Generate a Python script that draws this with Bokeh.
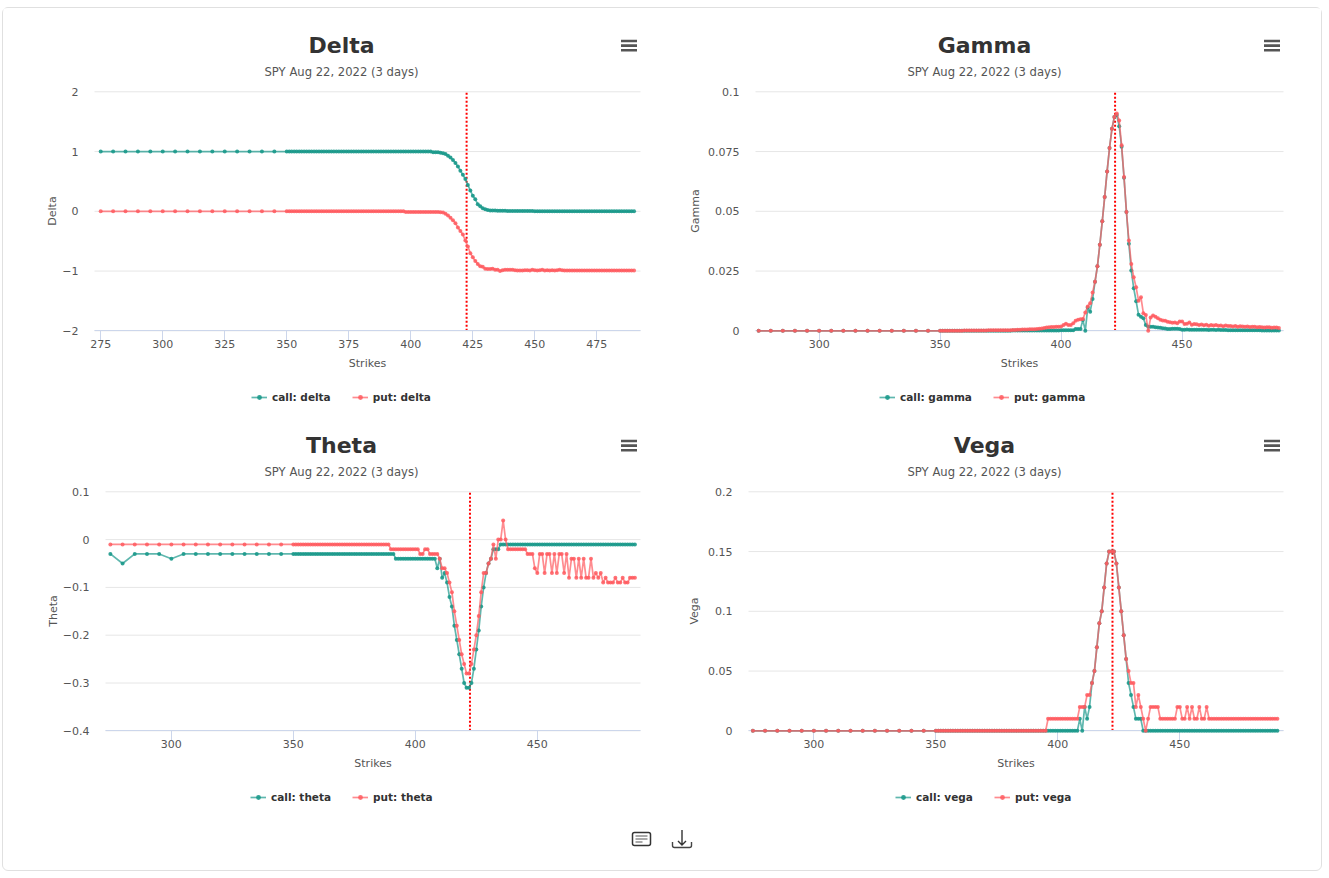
from bokeh.embed import file_html
from bokeh.layouts import column, row
from bokeh.models import (Div, FixedTicker, Label, Legend, LegendItem, Range1d)
from bokeh.plotting import figure
from bokeh.resources import INLINE

strikes = [275, 280, 285, 290, 295, 300, 305, 310, 315, 320, 325, 330, 335, 340, 345,
    350, 351, 352, 353, 354, 355, 356, 357, 358, 359,
    360, 361, 362, 363, 364, 365, 366, 367, 368, 369,
    370, 371, 372, 373, 374, 375, 376, 377, 378, 379,
    380, 381, 382, 383, 384, 385, 386, 387, 388, 389,
    390, 391, 392, 393, 394, 395, 396, 397, 398, 399,
    400, 401, 402, 403, 404, 405, 406, 407, 408, 409,
    410, 411, 412, 413, 414, 415, 416, 417, 418, 419,
    420, 421, 422, 423, 424, 425, 426, 427, 428, 429,
    430, 431, 432, 433, 434, 435, 436, 437, 438, 439,
    440, 441, 442, 443, 444, 445, 446, 447, 448, 449,
    450, 451, 452, 453, 454, 455, 456, 457, 458, 459,
    460, 461, 462, 463, 464, 465, 466, 467, 468, 469,
    470, 471, 472, 473, 474, 475, 476, 477, 478, 479,
    480, 481, 482, 483, 484, 485, 486, 487, 488, 489, 490]

delta_call = [1, 1, 1, 1, 1, 1, 1, 1, 1, 1, 1, 1, 1, 1, 1,
    1, 1, 1, 1, 1, 1, 1, 1, 1, 1,
    1, 1, 1, 1, 1, 1, 1, 1, 1, 1,
    1, 1, 1, 1, 1, 1, 1, 1, 1, 1,
    1, 1, 1, 1, 1, 1, 1, 1, 1, 1,
    1, 1, 1, 1, 1, 1, 1, 1, 1, 1,
    1, 1, 1, 1, 1, 1, 1, 1, 1, 0.99,
    0.99, 0.99, 0.98, 0.97, 0.96, 0.93, 0.90, 0.86, 0.81, 0.75,
    0.68, 0.61, 0.54, 0.44, 0.35, 0.26, 0.20, 0.12, 0.085, 0.05,
    0.035, 0.02, 0.015, 0.015, 0.015, 0.01, 0.01, 0.01, 0.01, 0.005,
    0.005, 0.005, 0.005, 0.005, 0.005, 0.005, 0.005, 0.005, 0.005, 0.005,
    0, 0, 0, 0, 0, 0, 0, 0, 0, 0,
    0, 0, 0, 0, 0, 0, 0, 0, 0, 0,
    0, 0, 0, 0, 0, 0, 0, 0, 0, 0,
    0, 0, 0, 0, 0, 0, 0, 0, 0, 0, 0]

delta_put = [0, 0, 0, 0, 0, 0, 0, 0, 0, 0, 0, 0, 0, 0, 0,
    0, 0, 0, 0, 0, 0, 0, 0, 0, 0,
    0, 0, 0, 0, 0, 0, 0, 0, 0, 0,
    0, 0, 0, 0, 0, 0, 0, 0, 0, 0,
    0, 0, 0, 0, 0, 0, 0, 0, 0, 0,
    0, 0, 0, 0, 0, 0, 0, 0, -0.01, -0.01,
    -0.01, -0.01, -0.01, -0.01, -0.01, -0.01, -0.01, -0.01, -0.01, -0.01,
    -0.01, -0.01, -0.015, -0.02, -0.04, -0.07, -0.11, -0.15, -0.20, -0.27,
    -0.33, -0.39, -0.49, -0.59, -0.70, -0.77, -0.83, -0.88, -0.92, -0.93,
    -0.96, -0.965, -0.965, -0.96, -0.98, -0.98, -1.0, -0.985, -0.98, -0.98,
    -0.98, -0.98, -0.985, -0.99, -0.99, -0.99, -0.985, -0.985, -0.99, -0.98,
    -0.985, -0.99, -0.985, -0.98, -0.99, -0.985, -0.99, -0.985, -0.99, -0.985,
    -0.98, -0.985, -0.99, -0.99, -0.99, -0.99, -0.99, -0.99, -0.99, -0.99,
    -0.99, -0.99, -0.99, -0.99, -0.99, -0.99, -0.99, -0.99, -0.99, -0.99,
    -0.99, -0.99, -0.99, -0.99, -0.99, -0.99, -0.99, -0.99, -0.99, -0.99, -0.99]

gamma_call = [0, 0, 0, 0, 0, 0, 0, 0, 0, 0, 0, 0, 0, 0, 0,
    0, 0, 0, 0, 0, 0, 0, 0, 0, 0,
    0, 0, 0, 0, 0, 0, 0, 0, 0, 0,
    0, 0, 0, 0, 0, 0, 0, 0, 0, 0,
    0.0001, 0.0001, 0.0001, 0.0001, 0.0001, 0.0001, 0.0001, 0.0001, 0.0001, 0.0001,
    0.0001, 0.0001, 0.0001, 0.0001, 0.0001, 0.0001, 0.0001, 0.0001, 0.0001, 0.0001,
    0.0002, 0.0002, 0.0002, 0.0002, 0.0002, 0.0002, 0.0008, 0.0008, 0.0008, 0.0045,
    0, 0.0098, 0.008, 0.0133, 0.0205, 0.027, 0.036, 0.0458, 0.056, 0.0667,
    0.0765, 0.0845, 0.0895, 0.0903, 0.0856, 0.077, 0.064, 0.0497, 0.0364, 0.0252,
    0.0178, 0.0124, 0.0067, 0.0059, 0.0052, 0.0024, 0.0017, 0.0017, 0.0017, 0.0015,
    0.0014, 0.0013, 0.0011, 0.001, 0.0008, 0.0008, 0.0009, 0.0009, 0.0009, 0.0008,
    0.0004, 0.0004, 0.0005, 0.0004, 0.0004, 0.0004, 0.0004, 0.0004, 0.0004, 0.0004,
    0.0004, 0.0003, 0.0004, 0.0004, 0.0003, 0.0004, 0.0003, 0.0003, 0.0003, 0.0002,
    0.0002, 0.0002, 0.0002, 0.0002, 0.0002, 0.0002, 0.0002, 0.0002, 0.0002, 0.0002,
    0.0002, 0.0002, 0.0002, 0.0001, 0.0001, 0.0001, 0.0001, 0.0001, 0.0001, 0.0001, 0.0001]

gamma_put = [0, 0, 0, 0, 0, 0, 0, 0, 0, 0, 0, 0, 0, 0, 0,
    0, 0, 0, 0, 0, 0, 0, 0, 0, 0,
    0.0001, 0.0001, 0.0001, 0.0001, 0.0001, 0.0001, 0.0001, 0.0001, 0.0001, 0.0001,
    0.0002, 0.0002, 0.0002, 0.0002, 0.0002, 0.0002, 0.0002, 0.0002, 0.0002, 0.0002,
    0.0003, 0.0003, 0.0004, 0.0004, 0.0005, 0.0005, 0.0005, 0.0006, 0.0006, 0.0007,
    0.0008, 0.0009, 0.001, 0.0012, 0.0014, 0.0015, 0.0016, 0.0016, 0.0017, 0.0017,
    0.0018, 0.0024, 0.0029, 0.0024, 0.0024, 0.0032, 0.0042, 0.0046, 0.0048, 0.0049,
    0.0077, 0.0102, 0.0115, 0.016, 0.0205, 0.027, 0.036, 0.0458, 0.056, 0.0667,
    0.0765, 0.0845, 0.0895, 0.0909, 0.088, 0.0776, 0.0643, 0.0497, 0.0378, 0.028,
    0.0224, 0.0182, 0.0126, 0.014, 0.0073, 0.0066, 0, 0.0056, 0.0064, 0.0059,
    0.0052, 0.0046, 0.0043, 0.0042, 0.0038, 0.0036, 0.0034, 0.0035, 0.0032, 0.0039,
    0.0039, 0.0028, 0.0029, 0.0035, 0.0025, 0.0028, 0.0027, 0.0024, 0.0026, 0.0023,
    0.0025, 0.0021, 0.0024, 0.0022, 0.0024, 0.0021, 0.0022, 0.0019, 0.0022, 0.002,
    0.002, 0.0018, 0.002, 0.0017, 0.0019, 0.0018, 0.0017, 0.0018, 0.0016, 0.0017,
    0.0017, 0.0015, 0.0016, 0.0015, 0.0014, 0.0015, 0.0015, 0.0013, 0.0014, 0.0014, 0.0012]

theta_call = [-0.03, -0.05, -0.03, -0.03, -0.03, -0.04, -0.03, -0.03, -0.03, -0.03, -0.03, -0.03, -0.03, -0.03, -0.03,
    -0.03, -0.03, -0.03, -0.03, -0.03, -0.03, -0.03, -0.03, -0.03, -0.03,
    -0.03, -0.03, -0.03, -0.03, -0.03, -0.03, -0.03, -0.03, -0.03, -0.03,
    -0.03, -0.03, -0.03, -0.03, -0.03, -0.03, -0.03, -0.03, -0.03, -0.03,
    -0.03, -0.03, -0.03, -0.03, -0.03, -0.03, -0.03, -0.03, -0.03, -0.03,
    -0.03, -0.03, -0.04, -0.04, -0.04, -0.04, -0.04, -0.04, -0.04, -0.04,
    -0.04, -0.04, -0.04, -0.04, -0.04, -0.04, -0.04, -0.04, -0.04, -0.06,
    -0.04, -0.08, -0.07, -0.09, -0.12, -0.14, -0.18, -0.21, -0.24, -0.27,
    -0.30, -0.31, -0.31, -0.30, -0.27, -0.23, -0.19, -0.14, -0.10, -0.07,
    -0.05, -0.04, -0.02, -0.02, -0.02, -0.01, -0.01, -0.01, -0.01, -0.01,
    -0.01, -0.01, -0.01, -0.01, -0.01, -0.01, -0.01, -0.01, -0.01, -0.01,
    -0.01, -0.01, -0.01, -0.01, -0.01, -0.01, -0.01, -0.01, -0.01, -0.01,
    -0.01, -0.01, -0.01, -0.01, -0.01, -0.01, -0.01, -0.01, -0.01, -0.01,
    -0.01, -0.01, -0.01, -0.01, -0.01, -0.01, -0.01, -0.01, -0.01, -0.01,
    -0.01, -0.01, -0.01, -0.01, -0.01, -0.01, -0.01, -0.01, -0.01, -0.01, -0.01]

theta_put = [-0.01, -0.01, -0.01, -0.01, -0.01, -0.01, -0.01, -0.01, -0.01, -0.01, -0.01, -0.01, -0.01, -0.01, -0.01,
    -0.01, -0.01, -0.01, -0.01, -0.01, -0.01, -0.01, -0.01, -0.01, -0.01,
    -0.01, -0.01, -0.01, -0.01, -0.01, -0.01, -0.01, -0.01, -0.01, -0.01,
    -0.01, -0.01, -0.01, -0.01, -0.01, -0.01, -0.01, -0.01, -0.01, -0.01,
    -0.01, -0.01, -0.01, -0.01, -0.01, -0.01, -0.01, -0.01, -0.01, -0.01,
    -0.02, -0.02, -0.02, -0.02, -0.02, -0.02, -0.02, -0.02, -0.02, -0.02,
    -0.02, -0.02, -0.03, -0.03, -0.02, -0.02, -0.03, -0.03, -0.03, -0.03,
    -0.04, -0.06, -0.06, -0.07, -0.09, -0.11, -0.15, -0.18, -0.21, -0.24,
    -0.26, -0.28, -0.28, -0.26, -0.23, -0.20, -0.16, -0.11, -0.07, -0.07,
    -0.05, -0.04, -0.01, -0.04, 0, 0, 0.04, 0, -0.02, -0.02,
    -0.02, -0.02, -0.02, -0.02, -0.02, -0.02, -0.03, -0.03, -0.03, -0.06,
    -0.07, -0.03, -0.03, -0.07, -0.03, -0.03, -0.07, -0.03, -0.07, -0.03,
    -0.03, -0.07, -0.03, -0.08, -0.04, -0.04, -0.08, -0.04, -0.08, -0.04,
    -0.08, -0.08, -0.04, -0.08, -0.07, -0.08, -0.07, -0.09, -0.08, -0.09,
    -0.09, -0.09, -0.08, -0.09, -0.09, -0.08, -0.09, -0.09, -0.08, -0.08, -0.08]

vega_call = [0, 0, 0, 0, 0, 0, 0, 0, 0, 0, 0, 0, 0, 0, 0,
    0, 0, 0, 0, 0, 0, 0, 0, 0, 0,
    0, 0, 0, 0, 0, 0, 0, 0, 0, 0,
    0, 0, 0, 0, 0, 0, 0, 0, 0, 0,
    0, 0, 0, 0, 0, 0, 0, 0, 0, 0,
    0, 0, 0, 0, 0, 0, 0, 0, 0, 0,
    0, 0, 0, 0, 0, 0, 0, 0, 0, 0.01,
    0, 0.02, 0.01, 0.02, 0.04, 0.05, 0.07, 0.09, 0.10, 0.12,
    0.14, 0.15, 0.15, 0.15, 0.14, 0.12, 0.10, 0.08, 0.06, 0.04,
    0.03, 0.02, 0.01, 0.01, 0.01, 0, 0, 0, 0, 0,
    0, 0, 0, 0, 0, 0, 0, 0, 0, 0,
    0, 0, 0, 0, 0, 0, 0, 0, 0, 0,
    0, 0, 0, 0, 0, 0, 0, 0, 0, 0,
    0, 0, 0, 0, 0, 0, 0, 0, 0, 0,
    0, 0, 0, 0, 0, 0, 0, 0, 0, 0, 0]

vega_put = [0, 0, 0, 0, 0, 0, 0, 0, 0, 0, 0, 0, 0, 0, 0,
    0, 0, 0, 0, 0, 0, 0, 0, 0, 0,
    0, 0, 0, 0, 0, 0, 0, 0, 0, 0,
    0, 0, 0, 0, 0, 0, 0, 0, 0, 0,
    0, 0, 0, 0, 0, 0, 0, 0, 0, 0,
    0, 0, 0, 0, 0, 0, 0.01, 0.01, 0.01, 0.01,
    0.01, 0.01, 0.01, 0.01, 0.01, 0.01, 0.01, 0.01, 0.01, 0.02,
    0.02, 0.02, 0.03, 0.03, 0.04, 0.05, 0.07, 0.09, 0.10, 0.12,
    0.14, 0.15, 0.15, 0.15, 0.14, 0.12, 0.10, 0.08, 0.06, 0.05,
    0.04, 0.04, 0.02, 0.03, 0.02, 0.01, 0, 0.01, 0.02, 0.02,
    0.02, 0.02, 0.01, 0.01, 0.01, 0.01, 0.01, 0.01, 0.01, 0.02,
    0.02, 0.01, 0.01, 0.02, 0.01, 0.02, 0.01, 0.01, 0.02, 0.01,
    0.01, 0.02, 0.01, 0.01, 0.01, 0.01, 0.01, 0.01, 0.01, 0.01,
    0.01, 0.01, 0.01, 0.01, 0.01, 0.01, 0.01, 0.01, 0.01, 0.01,
    0.01, 0.01, 0.01, 0.01, 0.01, 0.01, 0.01, 0.01, 0.01, 0.01, 0.01]

subtitle = "SPY Aug 22, 2022 (3 days)"
x_axis_title = "Strikes"
delta_xticks = [275, 300, 325, 350, 375, 400, 425, 450, 475]
other_xticks = [300, 350, 400, 450]
delta_yticks = {-2: "\u22122", -1: "\u22121", 0: "0", 1: "1", 2: "2"}
gamma_yticks = {0: "0", 0.025: "0.025", 0.05: "0.05", 0.075: "0.075", 0.1: "0.1"}
theta_yticks = {-0.4: "\u22120.4", -0.3: "\u22120.3", -0.2: "\u22120.2", -0.1: "\u22120.1", 0: "0", 0.1: "0.1"}
vega_yticks = {0: "0", 0.05: "0.05", 0.1: "0.1", 0.15: "0.15", 0.2: "0.2"}

CALL = "#1b998b"
PUT = "#ff5a5f"
FONT = "DejaVu Sans"
CELL_W, CELL_H = 659, 400
PLOT_TOP, PLOT_H = 83.3, 239


def chart(name, call, put, xticks, yticks, xspan, yspan, spot, cell_left,
          plot_left, plot_right, title_x, legend_x, ylab):
    # The frame fills the whole cell: title, legend and axes live inside it.
    kx = (xspan[1] - xspan[0]) / (plot_right - plot_left)
    ky = (yspan[1] - yspan[0]) / PLOT_H
    xr = Range1d(xspan[0] - (plot_left - cell_left) * kx,
                 xspan[1] + (cell_left + CELL_W - plot_right) * kx)
    yr = Range1d(yspan[0] - (CELL_H - PLOT_TOP - PLOT_H) * ky,
                 yspan[1] + PLOT_TOP * ky)
    p = figure(width=CELL_W, height=CELL_H, output_backend="svg", toolbar_location=None,
               x_range=xr, y_range=yr,
               min_border_left=0, min_border_right=0, min_border_top=0, min_border_bottom=0,
               x_axis_label=x_axis_title, y_axis_label=name)
    p.outline_line_color = None
    p.border_fill_color = None
    p.grid.visible = False

    ticks = list(yticks)
    p.segment(x0=[xspan[0]] * len(ticks), y0=ticks, x1=[xspan[1]] * len(ticks), y1=ticks,
              line_color="#e6e6e6", line_width=1, level="underlay")

    ax = p.xaxis[0]
    ax.level = "underlay"
    ax.fixed_location = yspan[0]
    ax.bounds = xspan
    ax.ticker = FixedTicker(ticks=xticks)
    ax.axis_line_color = "#ccd6eb"
    ax.major_tick_line_color = "#ccd6eb"
    ax.major_tick_out = 10
    ax.major_tick_in = 0
    ax.minor_tick_line_color = None
    ax.major_label_standoff = -1
    ax.axis_label_standoff = 6
    ay = p.yaxis[0]
    ay.fixed_location = xspan[0]
    ay.bounds = yspan
    ay.ticker = FixedTicker(ticks=ticks)
    ay.major_label_overrides = yticks
    ay.axis_line_color = None
    ay.major_tick_line_color = None
    ay.minor_tick_line_color = None
    ay.major_label_standoff = 10
    ay.axis_label_standoff = ylab
    for a in (ax, ay):
        a.major_label_text_font = FONT
        a.major_label_text_font_size = "11px"
        a.major_label_text_color = "#555555"
        a.axis_label_text_font = FONT
        a.axis_label_text_font_size = "11px"
        a.axis_label_text_font_style = "normal"
        a.axis_label_text_color = "#555555"

    p.line([spot, spot], [yspan[0], yspan[1]], line_color="#ff0000",
           line_width=2, line_dash=[2, 2], level="underlay")

    lc = p.line(strikes, call, line_color=CALL, line_width=1.7, line_alpha=0.7)
    mc = p.scatter(strikes, call, marker="circle", size=4, color=CALL, alpha=0.9, line_width=0)
    lp = p.line(strikes, put, line_color=PUT, line_width=1.7, line_alpha=0.7)
    mp = p.scatter(strikes, put, marker="circle", size=4, color=PUT, alpha=0.85, line_width=0)

    low = name.lower()
    legend = Legend(items=[LegendItem(label="call: " + low, renderers=[lc, mc]),
                           LegendItem(label="put: " + low, renderers=[lp, mp])],
                    orientation="horizontal", location=(legend_x, 5),
                    glyph_width=16, glyph_height=12, label_standoff=5, spacing=21,
                    margin=0, padding=0, background_fill_alpha=0, border_line_alpha=0,
                    label_text_font=FONT, label_text_font_style="bold",
                    label_text_font_size="10.5px", label_text_color="#333333")
    p.add_layout(legend)

    p.add_layout(Label(x=title_x, y=363, x_units="screen", y_units="screen", text=name,
                       text_align="center", text_baseline="middle", text_font=FONT,
                       text_font_style="bold", text_font_size="22px", text_color="#333333"))
    p.add_layout(Label(x=title_x, y=337, x_units="screen", y_units="screen", text=subtitle,
                       text_align="center", text_baseline="middle", text_font=FONT,
                       text_font_size="11.6px", text_color="#555555"))
    return p


p1 = chart("Delta", delta_call, delta_put, delta_xticks, delta_yticks,
           (272.5, 492.6), (-2, 2), 422.5, 3, 94, 640, 338, 248, 0)
p2 = chart("Gamma", gamma_call, gamma_put, other_xticks, gamma_yticks,
           (273.7, 491.9), (0, 0.1), 422.3, 662, 755, 1283, 322, 217, 3)
p3 = chart("Theta", theta_call, theta_put, other_xticks, theta_yticks,
           (273.0, 492.3), (-0.4, 0.1), 422.4, 3, 105, 640, 338, 247, 0)
p4 = chart("Vega", vega_call, vega_put, other_xticks, vega_yticks,
           (273.2, 492.5), (0, 0.2), 422.4, 662, 748, 1283, 322, 233, 4)

bars = "".join(
    f'<path d="M{x} {y}h16M{x} {y+4.6}h16M{x} {y+9.2}h16" stroke="#555" stroke-width="2.6" fill="none"/>'
    for x, y in [(618, -767), (1261, -767), (618, -367), (1261, -367)])
icons = (
    '<svg xmlns="http://www.w3.org/2000/svg" width="1318" height="62" viewBox="0 0 1318 62" '
    'style="position:absolute;left:0;top:0;overflow:visible;pointer-events:none">'
    + bars +
    '<rect x="629.5" y="24.5" width="18" height="13" rx="2" fill="none" stroke="#333" stroke-width="1.5"/>'
    '<path d="M632.5 28h12M632.5 31h12M632.5 34h7" stroke="#555" stroke-width="1.2" fill="none"/>'
    '<path d="M679 22v15M675 33l4 4 4-4" stroke="#333" stroke-width="1.4" fill="none"/>'
    '<path d="M669.5 34v3.5a2 2 0 0 0 2 2h15a2 2 0 0 0 2-2v-3.5" stroke="#444" stroke-width="1.4" fill="none"/>'
    '</svg>')
footer = Div(text=icons, width=1318, height=62, margin=0,
             styles={"overflow": "visible"})

page = column(row(p1, p2, spacing=0), row(p3, p4, spacing=0), footer, spacing=0,
              width=1318, height=862,
              margin=(7, 0, 0, 2),
              styles={"border": "1px solid #e0e0e0", "border-radius": "6px",
                      "background": "white", "box-sizing": "content-box"})

open("out.html", "w").write(file_html(page, INLINE))
